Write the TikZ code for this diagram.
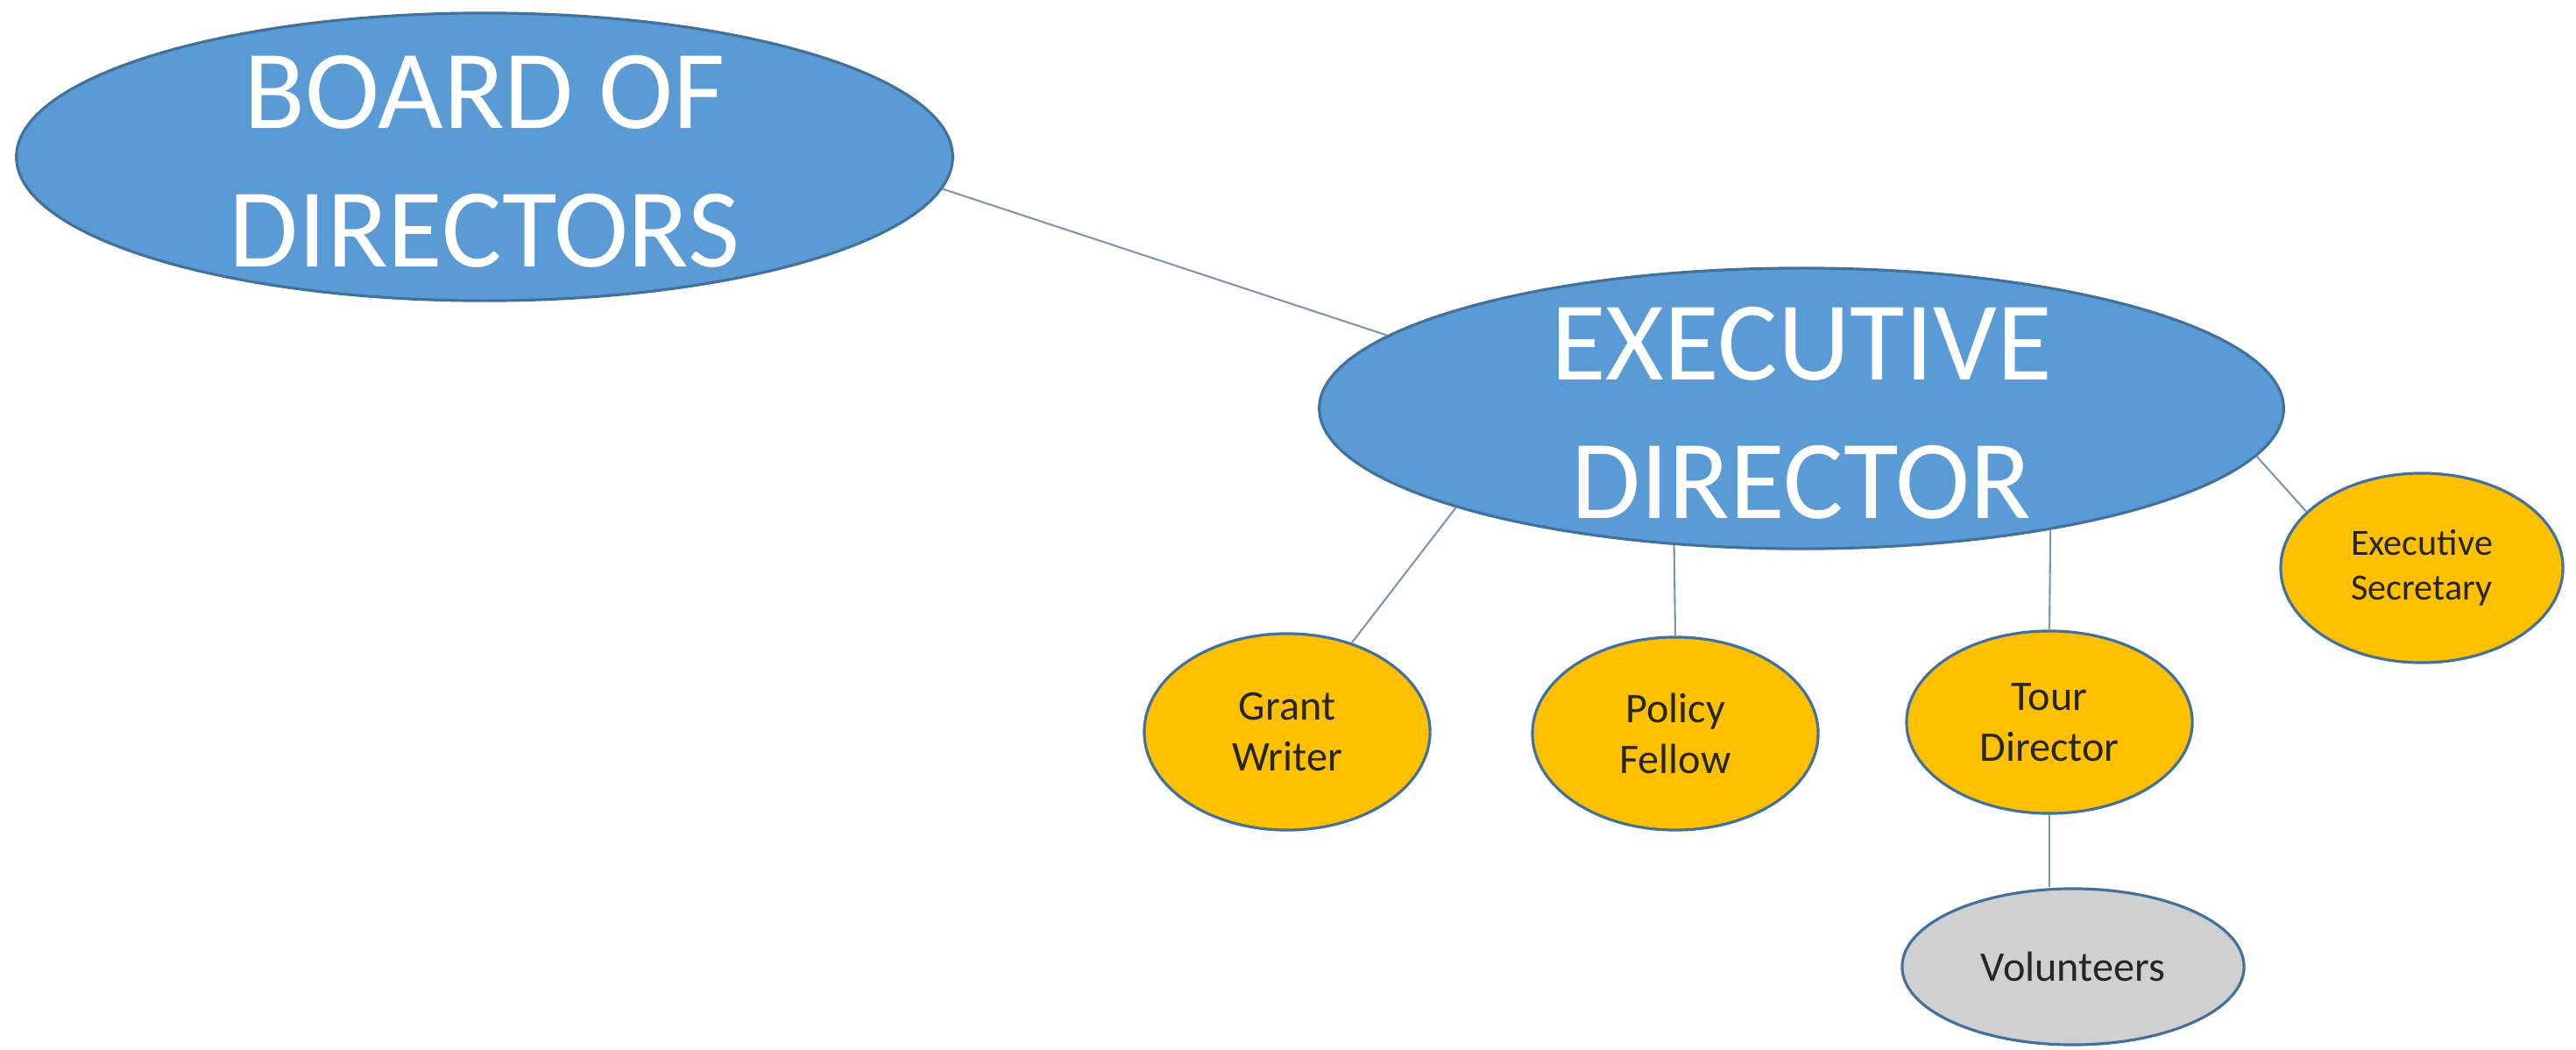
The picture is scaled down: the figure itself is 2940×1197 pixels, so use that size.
\documentclass[tikz,border=0pt]{standalone}
\usepackage{fontspec}
\setmainfont{Carlito}
\usepackage{tikz}
\usetikzlibrary{shapes,positioning}
\usepackage{xcolor}
\definecolor{officeblue}{HTML}{5B9BD5}
\definecolor{officeedge}{HTML}{41719C}
\definecolor{officegold}{HTML}{FFC000}
\definecolor{officegray}{HTML}{D0D0D0}
\definecolor{linkgray}{HTML}{8096B0}

\begin{document}
\begin{tikzpicture}[x=0.01cm, y=-0.01cm,
    bigoval/.style={ellipse, draw=officeedge, fill=officeblue, line width=0.9pt, inner sep=0pt},
    bigtext/.style={text=white, align=center, yshift=-0.05cm, font=\fontsize{36.5}{45}\selectfont},
    staffoval/.style={ellipse, draw=officeedge, fill=officegold, line width=0.9pt, inner sep=0pt, minimum width=3.26cm, minimum height=2.2cm, align=center, text=black!85, font=\fontsize{13.7}{16.5}\selectfont},
    link/.style={linkgray, line width=0.6pt}
]
    \useasboundingbox (0,0) rectangle (2940,1197);

    % Board
    \node[bigoval, minimum width=10.68cm, minimum height=3.28cm] (board) at (553,179) {};
    \node[bigtext] (boardtext) at (board) {BOARD OF\\DIRECTORS};

    % Executive director
    \node[bigoval, minimum width=11cm, minimum height=3.2cm] (exec) at (2056,466) {};
    \node[bigtext] (exectext) at (exec) {EXECUTIVE\\DIRECTOR};

    % Staff
    \node[staffoval, minimum height=2.24cm] (grant) at (1469,835) {Grant\\Writer};
    \node[staffoval] (policy) at (1912,837) {Policy\\Fellow};
    \node[staffoval, minimum height=2.08cm] (tour) at (2339,824) {Tour\\Director};
    \node[staffoval, minimum width=3.22cm, minimum height=2.16cm, font=\fontsize{12}{14.6}\selectfont] (execsec) at (2764,648) {Executive\\Secretary};
    \node[staffoval, fill=officegray, minimum width=3.9cm, minimum height=1.78cm] (volunteers) at (2366,1103) {Volunteers};

    % Links
    \draw[link] (board.-4.6) -- (exec.170);
    \draw[link] (exec.196) -- (grant.54);
    \draw[link] (exec.227) -- (policy.north);
    \draw[link] (exec.-26) -- (tour.north);
    \draw[link] (exec.-6.7) -- (execsec.154);
    \draw[link] (tour.south) -- (volunteers.north -| tour.south);
\end{tikzpicture}
\end{document}
